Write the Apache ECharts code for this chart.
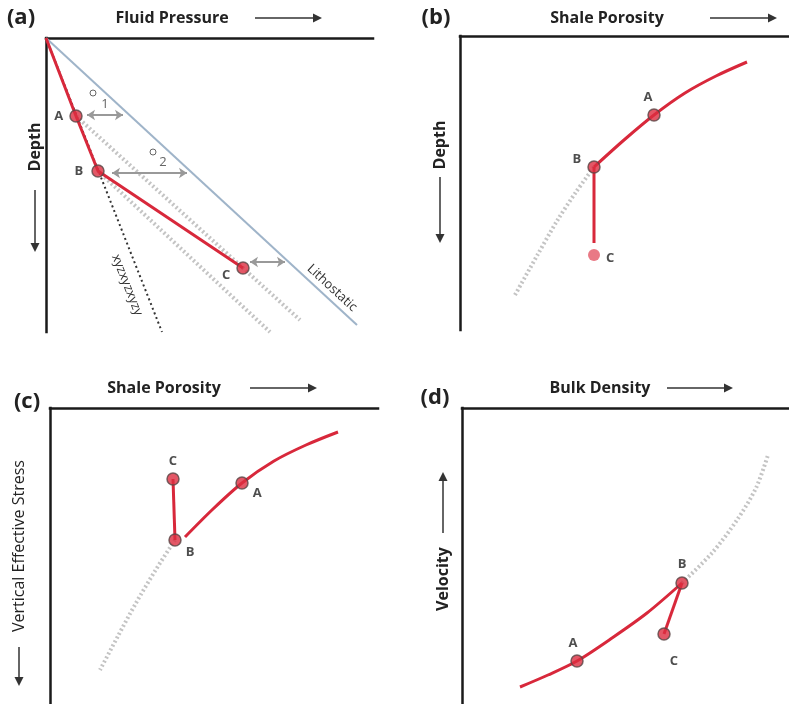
<!DOCTYPE html>
<html><head><meta charset="utf-8">
<script src="https://cdn.jsdelivr.net/npm/echarts@6/dist/echarts.min.js"></script>
<style>html,body{margin:0;padding:0;background:#fff}#c{width:789px;height:704px}</style>
</head><body><div id="c"></div>
<script>
// ---- Panel (a): Fluid Pressure vs Depth (schematic units, depth downward)
const aRed = [[0,0],[30,78],[52,133],[197,230]];
const aPoints = [['A',30,78],['B',52,133],['C',197,230]];
const aLitho = [[0,0],[311,287]];
const aGray1 = [[30,78],[254,282]];
const aGray2 = [[52,133],[224,294]];
const aHydro = [[0,0],[116,294]];
const aArrows = [[[41,77],[77,77]],[[66,135],[141,135]],[[204,224],[239,224]]];
// ---- Panel (b): Shale Porosity vs Depth
const bRed = [[134,131],[164,104],[194,79],[225,57],[256,40],[287,26]];
const bVert = [[134,131],[134,207]];
const bGray = [[134,131],[116,156],[97,185],[78,218],[55,259]];
const bPoints = [['A',194,79],['B',134,131],['C',134,219]];
// ---- Panel (c): Shale Porosity vs Vertical Effective Stress
const cRed = [[135,129],[163,101],[192,75],[224,53],[256,37],[288,24]];
const cVert = [[123,71],[125,132]];
const cGray = [[125,132],[105,163],[86,195],[68,228],[50,262]];
const cPoints = [['C',123,71],['A',192,75],['B',125,132]];
// ---- Panel (d): Bulk Density vs Velocity (velocity upward)
const dRed = [[58,279],[86,267],[115,253],[150,230],[185,205],[220,175]];
const dBC = [[220,175],[202,226]];
const dGray = [[220,175],[250,145],[275,112],[294,80],[306,47]];
const dPoints = [['A',115,253],['B',220,175],['C',202,226]];

const RED = '#d8283b', GRAYDOT = '#c4c4c4';
const grids = [
  {left:46, top:38, width:327, height:294},
  {left:460, top:36, width:329, height:294},
  {left:50, top:408, width:328, height:296},
  {left:462, top:408, width:327, height:296}
];
const axLine = {show:true, onZero:false, lineStyle:{color:'#1a1a1a', width:2.5, cap:'square'}};
const xAxis = grids.map((g,i)=>({type:'value', gridIndex:i, position:'top', min:0, max:g.width,
  axisLine:axLine, axisTick:{show:false}, axisLabel:{show:false}, splitLine:{show:false}}));
const yAxis = grids.map((g,i)=>({type:'value', gridIndex:i, position:'left', inverse:true, min:0, max:g.height,
  axisLine:axLine, axisTick:{show:false}, axisLabel:{show:false}, splitLine:{show:false}}));

function line(i, data, style, smooth, z){
  return {type:'line', xAxisIndex:i, yAxisIndex:i, data, symbol:'none', smooth:smooth||false,
    lineStyle:style, z:z||2, silent:true, animation:false};
}
const ptStyle = {color:'#dc2d40', borderColor:'#5a4545', borderWidth:1.5};
function points(i, pts, labelCfg, itemOverrides){
  return {type:'scatter', xAxisIndex:i, yAxisIndex:i, symbolSize:12, z:10, animation:false,
    data: pts.map((p,k)=>({name:p[0], value:[p[1],p[2]],
      itemStyle: (itemOverrides && itemOverrides[k]) || ptStyle,
      label:Object.assign({show:true, formatter:'{b}', fontWeight:'bold', fontSize:13,
        color:'#222', fontFamily:'Open Sans'}, labelCfg[k])}))};
}
const redS = {color:RED, width:3};
const grayS = {color:GRAYDOT, width:4, type:[2,2.5]};

const series = [
  line(0, aLitho, {color:'#9fb4c9', width:2}, false, 1),
  line(0, aHydro, {color:'#333', width:2, type:[2,3]}, false, 1),
  line(0, aGray1, grayS, false, 1),
  line(0, aGray2, grayS, false, 1),
  line(0, aRed, redS, false, 3),
  {type:'lines', coordinateSystem:'cartesian2d', xAxisIndex:0, yAxisIndex:0, animation:false,
   symbol:['arrow','arrow'], symbolSize:8, lineStyle:{color:'#999', width:2, opacity:1},
   data: aArrows.map(c=>({coords:c}))},
  points(0, aPoints, [
    {position:'left', distance:6},
    {position:'left', distance:8},
    {position:'left', distance:6, offset:[0,7]}]),
  line(1, bGray, grayS, 0.3, 1),
  line(1, bRed, redS, 0.3, 3),
  line(1, bVert, redS, false, 3),
  points(1, bPoints, [
    {position:'top', distance:4, offset:[-6,0]},
    {position:'left', distance:6, offset:[0,-8]},
    {position:'right', distance:6, offset:[0,3]}],
    [null, null, {color:'#e45867', borderWidth:0}]),
  line(2, cGray, grayS, 0.3, 1),
  line(2, cRed, redS, 0.3, 3),
  line(2, cVert, redS, false, 3),
  points(2, cPoints, [
    {position:'top', distance:4},
    {position:'right', distance:4, offset:[0,10]},
    {position:'right', distance:4, offset:[0,12]}]),
  line(3, dGray, grayS, 0.3, 1),
  line(3, dRed, redS, 0.3, 3),
  line(3, dBC, redS, false, 3),
  points(3, dPoints, [
    {position:'top', distance:4, offset:[-4,0]},
    {position:'top', distance:5},
    {position:'bottom', distance:8, offset:[10,6]}])
];

const F = 'Open Sans';
function txt(x,y,s,size,opts){
  return Object.assign({type:'text', x, y, style:{text:s, font:'bold '+size+'px "'+F+'"', fill:'#222',
    textAlign:'center', textVerticalAlign:'middle'}}, opts||{});
}
function arrow(x1,y1,x2,y2){
  const ang = Math.atan2(y2-y1, x2-x1), L=9, W=4.5;
  const bx = x2 - L*Math.cos(ang), by = y2 - L*Math.sin(ang);
  const px = -Math.sin(ang)*W, py = Math.cos(ang)*W;
  return [
    {type:'line', shape:{x1,y1,x2:bx,y2:by}, style:{stroke:'#333', lineWidth:1.5}},
    {type:'polygon', shape:{points:[[x2,y2],[bx+px,by+py],[bx-px,by-py]]}, style:{fill:'#333'}}
  ];
}
const graphic = [
  txt(21,18,'(a)',22), txt(172,18,'Fluid Pressure',16), ...arrow(255,18,322,18),
  txt(35,147,'Depth',16,{rotation:Math.PI/2}), ...arrow(35,190,35,252),
  txt(436,18,'(b)',22), txt(607,18,'Shale Porosity',16), ...arrow(710,18,777,18),
  txt(440,145,'Depth',16,{rotation:Math.PI/2}), ...arrow(440,177,440,243),
  txt(27,402,'(c)',22), txt(164,388,'Shale Porosity',16), ...arrow(250,388,317,388),
  {type:'text', x:19, y:546, rotation:Math.PI/2, style:{text:'Vertical Effective Stress', font:'16px "'+F+'"', fill:'#222', textAlign:'center', textVerticalAlign:'middle'}},
  ...arrow(19,647,19,686),
  txt(435,398,'(d)',22), txt(600,388,'Bulk Density',16), ...arrow(667,388,733,388),
  txt(443,579,'Velocity',16,{rotation:Math.PI/2}), ...arrow(443,533,443,472),
  {type:'text', x:332, y:288, rotation:-42.7*Math.PI/180, style:{text:'Lithostatic', font:'13px "'+F+'"', fill:'#333', textAlign:'center', textVerticalAlign:'middle'}},
  {type:'text', x:127, y:285, rotation:-68.6*Math.PI/180, style:{text:'xyzxyzxyzy', font:'13px "'+F+'"', fill:'#333', textAlign:'center', textVerticalAlign:'middle'}},
  {type:'circle', shape:{cx:93, cy:93, r:3}, style:{fill:'none', stroke:'#666', lineWidth:1}},
  {type:'text', x:105, y:104, style:{text:'1', font:'13px "'+F+'"', fill:'#666', textAlign:'center', textVerticalAlign:'middle'}},
  {type:'circle', shape:{cx:153, cy:152, r:3}, style:{fill:'none', stroke:'#666', lineWidth:1}},
  {type:'text', x:163, y:162, style:{text:'2', font:'13px "'+F+'"', fill:'#666', textAlign:'center', textVerticalAlign:'middle'}}
];

const chart = echarts.init(document.getElementById('c'), null, {renderer:'canvas'});
chart.setOption({animation:false, backgroundColor:'#fff', grid:grids, xAxis, yAxis, series, graphic});
</script></body></html>
